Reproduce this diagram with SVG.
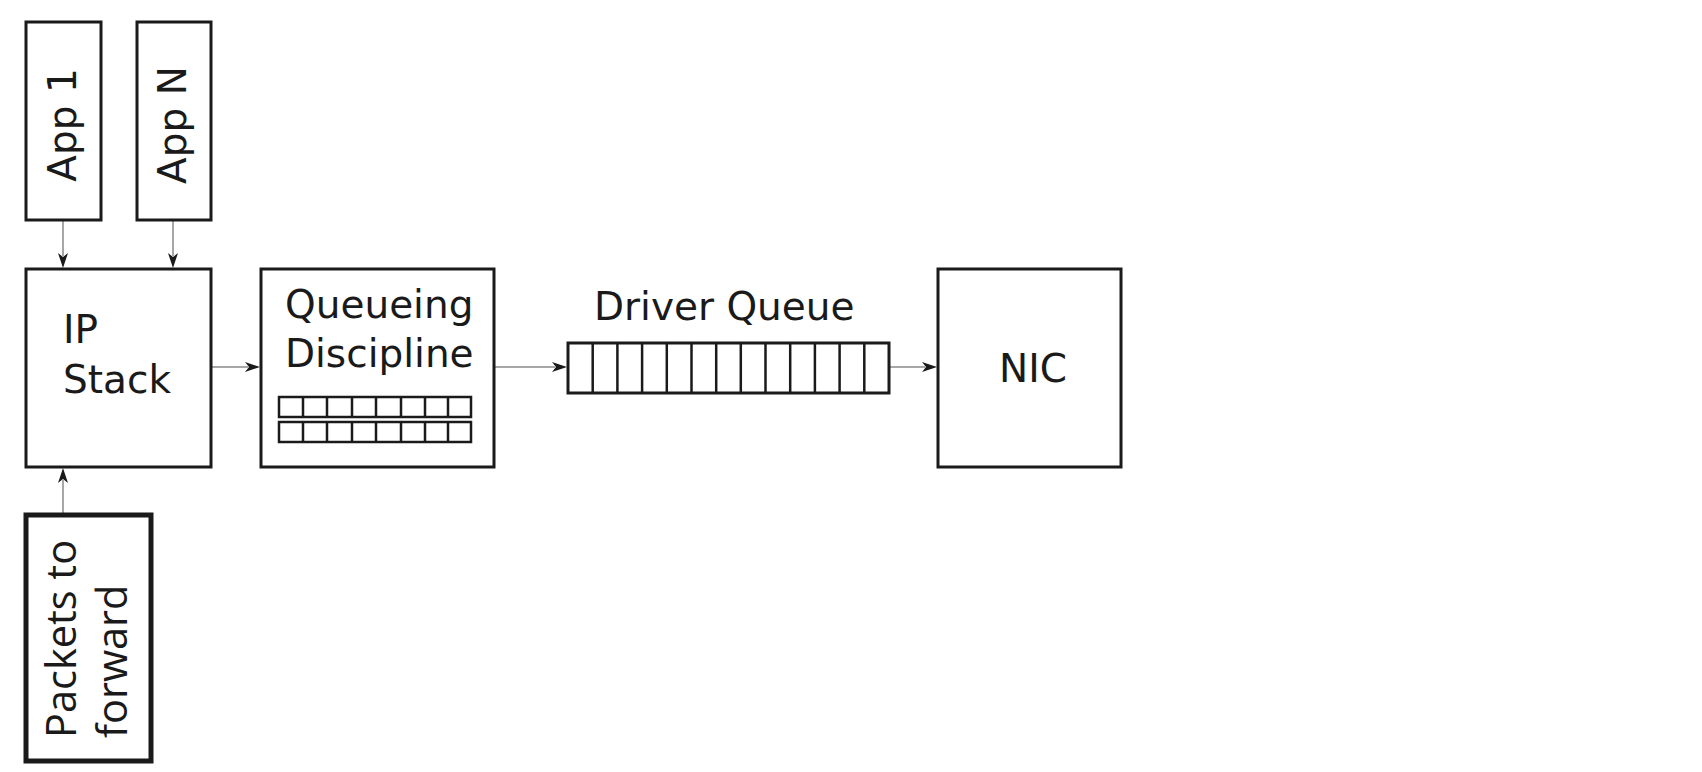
<svg xmlns="http://www.w3.org/2000/svg" width="1702" height="772" viewBox="0 0 1702 772">
<defs>
<style>
.box{fill:#fff;stroke:#1a1a1a;stroke-width:3}
.thick{stroke-width:5}
.cell{fill:none;stroke:#1a1a1a;stroke-width:2.5}
.conn{stroke:#8a8a8a;stroke-width:1.5;fill:none}
.t{font-family:"DejaVu Sans",sans-serif;font-size:39px;fill:#1a1a1a}
.o{font-family:"Open Sans",sans-serif;font-size:41.5px;fill:#1a1a1a}
.ah{fill:#1a1a1a;stroke:none}
</style>
</defs>
<rect width="1702" height="772" fill="#fff"/>
<g id="connectors">
<line class="conn" x1="63" y1="220" x2="63" y2="256"/>
<path class="ah" d="M63,268 L58,253 L63,257 L68,253 Z"/>
<line class="conn" x1="173" y1="220" x2="173" y2="256"/>
<path class="ah" d="M173,268 L168,253 L173,257 L178,253 Z"/>
<line class="conn" x1="63" y1="514" x2="63" y2="480"/>
<path class="ah" d="M63,468 L58,483 L63,479 L68,483 Z"/>
<line class="conn" x1="211" y1="367" x2="248" y2="367"/>
<path class="ah" d="M260,367 L245,362 L249,367 L245,372 Z"/>
<line class="conn" x1="494" y1="367" x2="555" y2="367"/>
<path class="ah" d="M567,367 L552,362 L556,367 L552,372 Z"/>
<line class="conn" x1="889" y1="367" x2="925" y2="367"/>
<path class="ah" d="M937,367 L922,362 L926,367 L922,372 Z"/>
</g>
<g id="app1">
<rect class="box" x="26" y="22" width="75" height="198"/>
<text class="t" text-anchor="middle" transform="translate(76,125) rotate(-90)">App 1</text>
</g>
<g id="appN">
<rect class="box" x="137" y="22" width="74" height="198"/>
<text class="t" text-anchor="middle" transform="translate(186,125) rotate(-90)">App N</text>
</g>
<g id="ipstack">
<rect class="box" x="26" y="269" width="185" height="198"/>
<text class="t" x="63" y="343">IP</text>
<text class="t" x="63" y="393">Stack</text>
</g>
<g id="qdisc">
<rect class="box" x="261" y="269" width="233" height="198"/>
<text class="t" x="285" y="318">Queueing</text>
<text class="t" x="285" y="367">Discipline</text>
<rect class="cell" x="279" y="397" width="192" height="20"/>
<rect class="cell" x="279" y="422" width="192" height="20"/>
<path class="cell" d="M303,397V417M327,397V417M352,397V417M376,397V417M401,397V417M425,397V417M448,397V417M303,422V442M327,422V442M352,422V442M376,422V442M401,422V442M425,422V442M448,422V442"/>
</g>
<g id="driverqueue">
<text class="t" x="594" y="320">Driver Queue</text>
<rect class="cell" x="568" y="343" width="321" height="50" style="stroke-width:3"/>
<path class="cell" d="M592.7,343V393M617.4,343V393M642.1,343V393M666.8,343V393M691.5,343V393M716.2,343V393M740.8,343V393M765.5,343V393M790.2,343V393M814.9,343V393M839.6,343V393M864.3,343V393"/>
</g>
<g id="nic">
<rect class="box" x="938" y="269" width="183" height="198"/>
<text class="t" x="1033" y="382" text-anchor="middle">NIC</text>
</g>
<g id="packets">
<rect class="box thick" x="26" y="515" width="125" height="246"/>
<text class="o" transform="translate(76,738) rotate(-90)">Packets to</text>
<text class="o" transform="translate(127,738) rotate(-90)">forward</text>
</g>
</svg>
